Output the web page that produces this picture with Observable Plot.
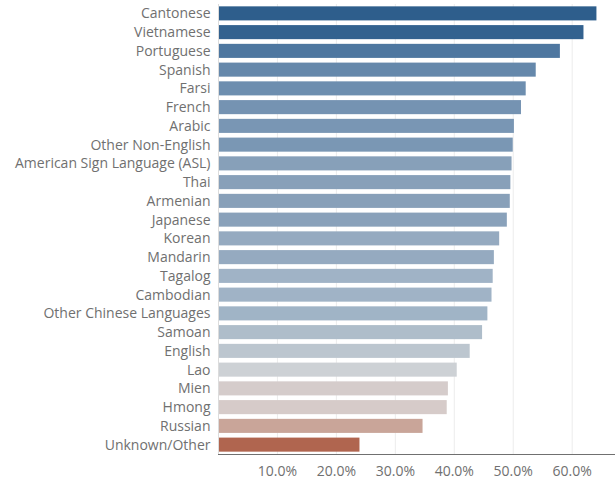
<!DOCTYPE html>
<html>
<head>
<meta charset="utf-8">
<script src="https://cdn.jsdelivr.net/npm/d3@7"></script>
<script src="https://cdn.jsdelivr.net/npm/@observablehq/plot@0.6"></script>
<style>
  html, body { margin: 0; padding: 0; background: #fff; }
</style>
</head>
<body>
<div id="chart"></div>
<script>
const languages = [
  "Cantonese", "Vietnamese", "Portuguese", "Spanish", "Farsi", "French", "Arabic",
  "Other Non-English", "American Sign Language (ASL)", "Thai", "Armenian", "Japanese",
  "Korean", "Mandarin", "Tagalog", "Cambodian", "Other Chinese Languages", "Samoan",
  "English", "Lao", "Mien", "Hmong", "Russian", "Unknown/Other"
];
const shares = [
  0.642, 0.620, 0.580, 0.539, 0.522, 0.514, 0.502,
  0.500, 0.498, 0.496, 0.495, 0.490,
  0.477, 0.468, 0.466, 0.464, 0.457, 0.448,
  0.427, 0.405, 0.390, 0.388, 0.347, 0.240
];
const tickValues = [0.1, 0.2, 0.3, 0.4, 0.5, 0.6];

const data = languages.map((language, i) => ({language, share: shares[i]}));

const colorDomain = [0.240, 0.347, 0.389, 0.405, 0.427, 0.448, 0.457, 0.466, 0.468, 0.477, 0.490, 0.498, 0.500, 0.514, 0.522, 0.539, 0.580, 0.620, 0.642];
const colorRange  = ["#b0654f", "#c9a599", "#d6ccca", "#cdd1d5", "#bcc6cf", "#aebdca", "#a0b4c6", "#a0b3c6", "#95aac0", "#95aac0", "#89a1ba", "#87a0b9", "#7a97b4", "#7593b2", "#6d8eaf", "#6588ab", "#4e77a0", "#33628f", "#2e5e8c"];

const chart = Plot.plot({
  width: 615,
  height: 482,
  marginLeft: 218,
  marginRight: 0,
  marginTop: 4,
  marginBottom: 28,
  style: {fontFamily: "'Open Sans', sans-serif", fontSize: "14px", color: "#707070", background: "#fff"},
  x: {domain: [0, 0.6735], ticks: tickValues, tickFormat: d3.format(".1%"), label: null, tickSize: 0, tickPadding: 12, line: true},
  y: {domain: languages, label: null, tickSize: 0, tickPadding: 8, paddingInner: 0.25, paddingOuter: 0.125, round: false},
  color: {type: "linear", domain: colorDomain, range: colorRange},
  marks: [
    Plot.ruleX(tickValues, {stroke: "#ececec"}),
    Plot.barX(data, {x: "share", y: "language", fill: "share"}),
    Plot.ruleX([0], {stroke: "#dcdcdc"})
  ]
});
document.getElementById("chart").appendChild(chart);
</script>
</body>
</html>
